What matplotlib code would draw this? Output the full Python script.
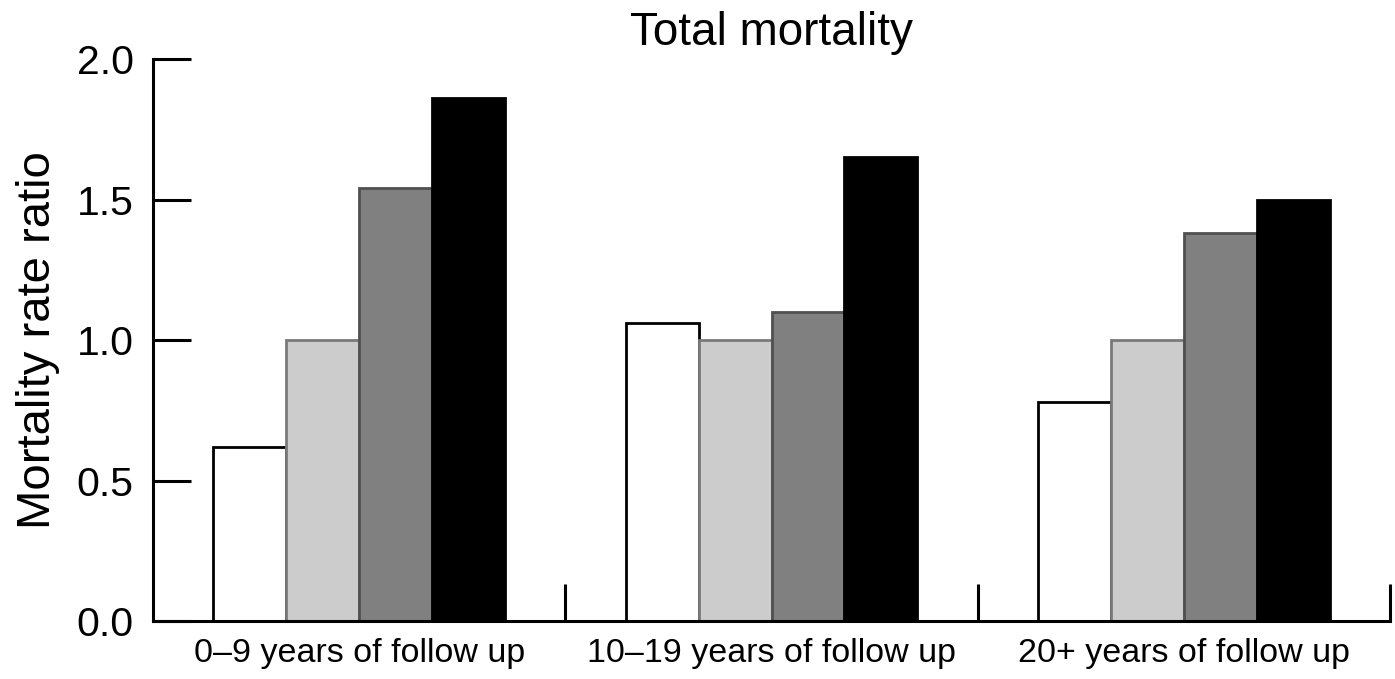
import numpy as np
import matplotlib
matplotlib.use("Agg")
import matplotlib.pyplot as plt

plt.rcParams.update({
    "font.family": ["Liberation Sans", "DejaVu Sans"],
})

# ── Data ───────────────────────────────────────────────────────────────────
groups = ["0–9 years of follow up", "10–19 years of follow up",
          "20+ years of follow up"]
series_white = [0.62, 1.06, 0.78]
series_light = [1.00, 1.00, 1.00]
series_dark = [1.54, 1.10, 1.38]
series_black = [1.86, 1.65, 1.50]

series = [series_white, series_light, series_dark, series_black]
fills = ["#ffffff", "#cccccc", "#808080", "#000000"]
edges = ["#000000", "#7a7a7a", "#505050", "#000000"]

# ── Plot ───────────────────────────────────────────────────────────────────
fig = plt.figure(figsize=(13.95, 6.79), dpi=100)
ax = fig.add_axes([0.1097, 0.0854, 0.8867, 0.8277])

x = np.arange(len(groups))
width = 0.177
for i, (vals, fc, ec) in enumerate(zip(series, fills, edges)):
    ax.bar(x + (i - 1.5) * width, vals, width, color=fc, edgecolor=ec,
           linewidth=2.0, zorder=2)

ax.set_xlim(-0.5, 2.5)
ax.set_ylim(0, 2.0)
ax.spines["top"].set_visible(False)
ax.spines["right"].set_visible(False)
ax.spines["left"].set_linewidth(2.2)
ax.spines["bottom"].set_linewidth(2.2)
ax.spines["bottom"].set_zorder(3)

ax.set_yticks([0.0, 0.5, 1.0, 1.5, 2.0])
ax.set_yticklabels(["0.0", "0.5", "1.0", "1.5", "2.0"])
ax.tick_params(axis="y", direction="in", length=27, width=2.2,
               labelsize=29.5, pad=14)

ax.set_xticks(x)
ax.set_xticklabels(groups)
ax.set_xticks([0.5, 1.5, 2.5], minor=True)
ax.tick_params(axis="x", which="major", length=0, labelsize=24.5, pad=12)
ax.tick_params(axis="x", which="minor", direction="in", length=27, width=2.2)

ax.set_ylabel("Mortality rate ratio", fontsize=34, labelpad=12)
ax.set_title("Total mortality", fontsize=33, pad=10)

fig.savefig("out.png", dpi=100)
